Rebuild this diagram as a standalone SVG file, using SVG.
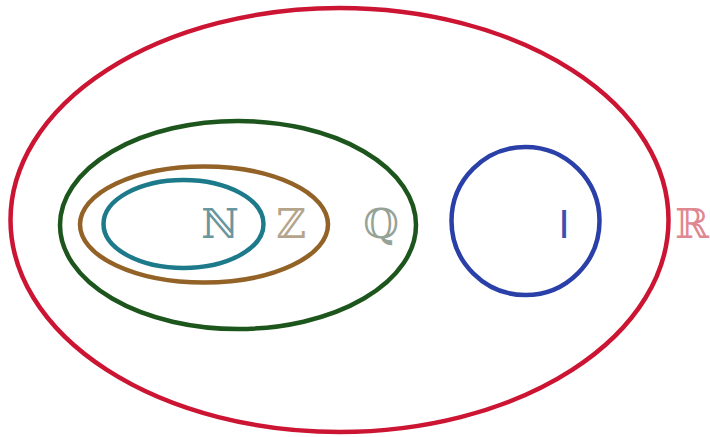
<svg xmlns="http://www.w3.org/2000/svg" width="710" height="437" viewBox="0 0 710 437">
<style>
.set{fill:none;stroke-width:4.5}
.lbl{font-family:"DejaVu Serif","DejaVu Sans",serif;font-size:41px;text-anchor:middle;font-weight:normal}
</style>
<rect width="710" height="437" fill="#ffffff"/>
<g id="R"><ellipse class="set" cx="339.5" cy="220" rx="329" ry="212" stroke="#cc1433"/><text class="lbl" x="692" y="238" fill="#e08892">ℝ</text></g>
<g id="Q"><ellipse class="set" cx="238" cy="225" rx="178" ry="104" stroke="#1d561c"/><text class="lbl" x="381" y="238" fill="#96a296">ℚ</text></g>
<g id="Z"><ellipse class="set" cx="204" cy="224.5" rx="124" ry="58" stroke="#936226"/><text class="lbl" x="291" y="238" fill="#b4a48c">ℤ</text></g>
<g id="N"><ellipse class="set" cx="183.5" cy="224" rx="80" ry="44" stroke="#1d7a8a"/><text class="lbl" x="220" y="238" fill="#6a96a0">ℕ</text></g>
<g id="I"><circle class="set" cx="525.5" cy="221" r="74" stroke="#2a40a8"/><text x="564" y="238" font-family="Liberation Sans, sans-serif" font-size="40" text-anchor="middle" fill="#3a50b0">I</text></g>
<g id="connectors"/>
</svg>
